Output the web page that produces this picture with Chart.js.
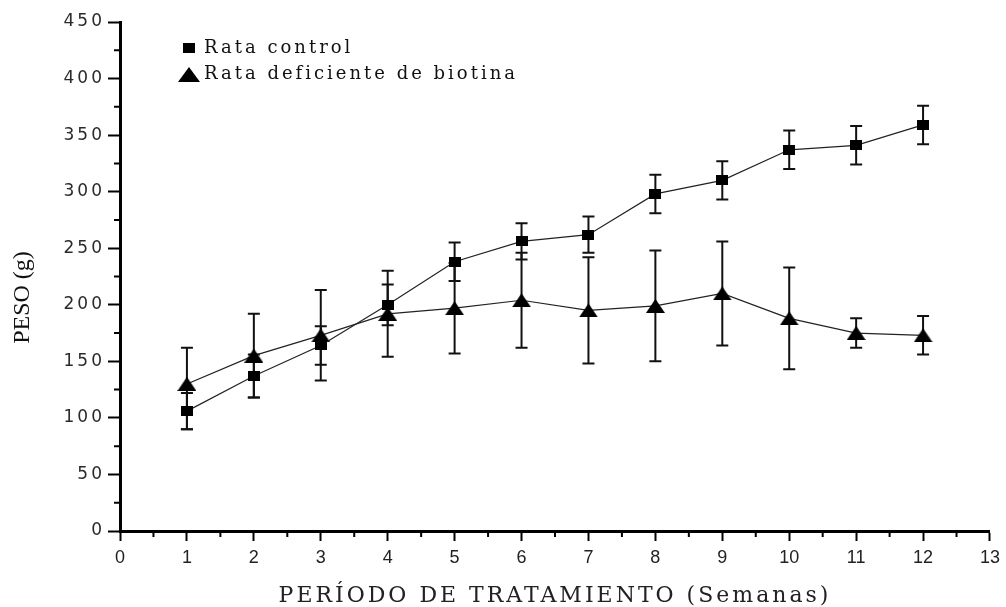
<!DOCTYPE html>
<html>
<head>
<meta charset="utf-8">
<script src="https://cdn.jsdelivr.net/npm/chart.js@4.4.1/dist/chart.umd.min.js"></script>
<style>
  html, body { margin: 0; padding: 0; background: #ffffff; }
  #wrap { width: 1006px; height: 607px; }
</style>
</head>
<body>
<div id="wrap"><canvas id="chart" width="1006" height="607"></canvas></div>
<script>
// Weeks of treatment
const weeks = [1, 2, 3, 4, 5, 6, 7, 8, 9, 10, 11, 12];

// Control rats: mean weight (g) and error bar extents
const controlWeight  = [106, 137, 164, 200, 238, 256, 262, 298, 310, 337, 341, 359];
const controlErrUp   = [16, 19, 17, 18, 17, 16, 16, 17, 17, 17, 17, 17];
const controlErrDown = [16, 19, 17, 18, 17, 16, 16, 17, 17, 17, 17, 17];

// Biotin-deficient rats: mean weight (g) and error bar extents
const biotinWeight  = [130, 155, 173, 192, 197, 204, 195, 199, 210, 188, 175, 173];
const biotinErrUp   = [32, 37, 40, 38, 40, 42, 47, 49, 46, 45, 13, 17];
const biotinErrDown = [40, 37, 40, 38, 40, 42, 47, 49, 46, 45, 13, 17];

// Axis tick values
const xTickValues = [0, 1, 2, 3, 4, 5, 6, 7, 8, 9, 10, 11, 12, 13];
const yTickValues = [0, 50, 100, 150, 200, 250, 300, 350, 400, 450];

const seriesNames = ['Rata control', 'Rata deficiente de biotina'];

// Filled marker sprites (slightly wider than tall)
function makeMarker(kind, w, h) {
  const c = document.createElement('canvas');
  c.width = w; c.height = h;
  const g = c.getContext('2d');
  g.fillStyle = '#000';
  if (kind === 'square') {
    g.fillRect(0, 0, w, h);
  } else {
    g.beginPath();
    g.moveTo(w / 2, 0);
    g.lineTo(w, h);
    g.lineTo(0, h);
    g.closePath();
    g.fill();
  }
  return c;
}
const squareMark = makeMarker('square', 12, 10);
const triangleMark = makeMarker('triangle', 19, 14);
const legendTriangle = makeMarker('triangle', 22, 15);

const toPoints = (ys) => weeks.map((w, i) => ({ x: w, y: ys[i] }));

// Vertical error bars with caps, positioned through the chart scales
const errorBars = {
  id: 'errorBars',
  beforeDatasetsDraw(chart) {
    const { ctx } = chart;
    const y = chart.scales.y;
    const sets = [
      [controlWeight, controlErrUp, controlErrDown],
      [biotinWeight, biotinErrUp, biotinErrDown]
    ];
    ctx.save();
    ctx.strokeStyle = '#111';
    ctx.lineWidth = 2;
    sets.forEach(([vals, up, down], di) => {
      const meta = chart.getDatasetMeta(di);
      meta.data.forEach((pt, i) => {
        const top = y.getPixelForValue(vals[i] + up[i]);
        const bot = y.getPixelForValue(vals[i] - down[i]);
        const half = 6;
        ctx.beginPath();
        ctx.moveTo(pt.x, top); ctx.lineTo(pt.x, bot);
        ctx.moveTo(pt.x - half, top); ctx.lineTo(pt.x + half, top);
        ctx.moveTo(pt.x - half, bot); ctx.lineTo(pt.x + half, bot);
        ctx.stroke();
      });
    });
    ctx.restore();
  }
};

// Short minor ticks halfway between the major ticks of both axes
const minorTicks = {
  id: 'minorTicks',
  afterDraw(chart) {
    const { ctx, chartArea } = chart;
    const xs = chart.scales.x, ys = chart.scales.y;
    ctx.save();
    ctx.strokeStyle = '#000';
    ctx.lineWidth = 2;
    ctx.beginPath();
    for (let i = 0; i < xs.ticks.length - 1; i++) {
      const px = xs.getPixelForValue((xs.ticks[i].value + xs.ticks[i + 1].value) / 2);
      ctx.moveTo(px, chartArea.bottom);
      ctx.lineTo(px, chartArea.bottom + 6);
    }
    for (let i = 0; i < ys.ticks.length - 1; i++) {
      const py = ys.getPixelForValue((ys.ticks[i].value + ys.ticks[i + 1].value) / 2);
      ctx.moveTo(chartArea.left, py);
      ctx.lineTo(chartArea.left - 6, py);
    }
    ctx.stroke();
    ctx.restore();
  }
};

// Legend inside the plot, nudged in from the corner; wide letter spacing
// for the layers drawn before the datasets (legend, value labels, x title)
const layoutAndSpacing = {
  id: 'layoutAndSpacing',
  afterLayout(chart) {
    const lg = chart.legend;
    if (!lg) return;
    lg.left = chart.chartArea.left + 54.5;
    lg.top = chart.chartArea.top + 8.5;
  },
  beforeDraw(chart) { chart.ctx.letterSpacing = '3px'; },
  afterDatasetsDraw(chart) { chart.ctx.letterSpacing = '0px'; },
  afterDraw(chart) { chart.ctx.letterSpacing = '0px'; }
};

new Chart(document.getElementById('chart'), {
  type: 'line',
  data: {
    datasets: [
      {
        label: seriesNames[0],
        data: toPoints(controlWeight),
        borderColor: '#222',
        borderWidth: 1.2,
        pointStyle: squareMark,
        pointRadius: 6,
        pointBackgroundColor: '#000',
        fill: false,
        tension: 0
      },
      {
        label: seriesNames[1],
        data: toPoints(biotinWeight),
        borderColor: '#222',
        borderWidth: 1.2,
        pointStyle: triangleMark,
        pointRadius: 6,
        pointBackgroundColor: '#000',
        fill: false,
        tension: 0
      }
    ]
  },
  options: {
    responsive: false,
    animation: false,
    devicePixelRatio: 1,
    layout: { padding: { left: 0, right: 16, top: 22, bottom: 0 } },
    plugins: {
      legend: {
        position: 'chartArea',
        align: 'start',
        labels: {
          usePointStyle: true,
          boxWidth: 12,
          boxHeight: 12,
          padding: 8.5,
          color: '#111',
          font: { family: "'DejaVu Serif', 'Liberation Serif', serif", size: 18 },
          generateLabels(chart) {
            const items = Chart.defaults.plugins.legend.labels.generateLabels(chart);
            if (items[1]) items[1].pointStyle = legendTriangle;
            return items;
          }
        }
      },
      tooltip: { enabled: false }
    },
    scales: {
      x: {
        type: 'linear',
        min: 0,
        max: 13,
        afterBuildTicks: (s) => { s.ticks = xTickValues.map(v => ({ value: v })); },
        afterFit: (s) => { s.height = 76; },
        border: { display: true, color: '#000', width: 3 },
        grid: { display: true, drawOnChartArea: false, drawTicks: true, tickLength: 10, tickWidth: 2, tickColor: '#000' },
        ticks: {
          z: 1,
          padding: 6,
          color: '#222',
          maxRotation: 0,
          autoSkip: false,
          font: { family: "'Liberation Sans Narrow', 'Liberation Sans', Arial, sans-serif", size: 18 }
        },
        title: {
          display: true,
          text: 'PERÍODO DE TRATAMIENTO (Semanas)',
          color: '#222',
          padding: { top: 0, bottom: 0 },
          font: { family: "'DejaVu Serif', 'Liberation Serif', serif", size: 22, lineHeight: 1 }
        }
      },
      y: {
        min: 0,
        max: 450,
        afterBuildTicks: (s) => { s.ticks = yTickValues.map(v => ({ value: v })); },
        afterFit: (s) => { s.width = 120; },
        border: { display: true, z: 2, color: '#000', width: 3 },
        grid: { display: true, z: 1, drawOnChartArea: false, drawTicks: true, tickLength: 12, tickWidth: 2, tickColor: '#000' },
        ticks: {
          z: 0,
          padding: 3,
          color: '#2a2a2a',
          font: { family: "'DejaVu Sans', Arial, sans-serif", size: 17 }
        },
        title: {
          display: true,
          text: 'PESO (g)       ',
          color: '#111',
          padding: { top: 11, bottom: 0 },
          font: { family: "'Liberation Serif', 'Times New Roman', serif", size: 24, lineHeight: 1 }
        }
      }
    }
  },
  plugins: [errorBars, minorTicks, layoutAndSpacing]
});
</script>
</body>
</html>
